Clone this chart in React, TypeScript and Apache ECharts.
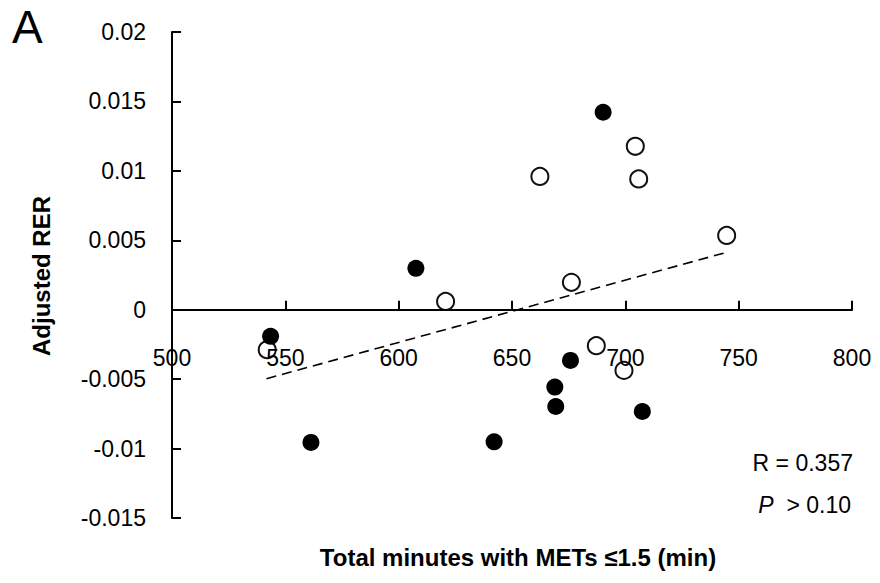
import React, { useEffect, useRef } from "react";
import * as echarts from "echarts";

const xTicks = { min: 500, max: 800, interval: 50 };
const yTicks = { min: -0.015, max: 0.02, interval: 0.005 };

const filledX = [690.2, 561.3, 642.1, 543.5, 675.8, 668.9, 669.3, 707.5, 607.6];
const filledY = [0.01422, -0.00956, -0.00951, -0.00192, -0.00365, -0.00557, -0.00697, -0.00733, 0.00298];

const openX = [662.3, 704.4, 705.9, 744.7, 676.2, 620.7, 542.0, 687.2, 699.4];
const openY = [0.0096, 0.01177, 0.00942, 0.00535, 0.00197, 0.0006, -0.00288, -0.00259, -0.00437];

const trendX = [541.7, 744.6];
const trendY = [-0.00497, 0.00413];

const xTitle = "Total minutes with METs \u22641.5 (min)";
const yTitle = "Adjusted RER";
const panelLabel = "A";
const rText = "R = 0.357";
const pValue = "> 0.10";

const FONT = "Liberation Sans, Arial, sans-serif";
const GRID_TOP = 32;
const GRID_BOTTOM = 65;
const H = 583;

export default function App() {
  const ref = useRef<HTMLDivElement>(null);
  useEffect(() => {
    if (!ref.current) return;
    const chart = echarts.init(ref.current, undefined, { renderer: "svg" });
    const zip = (xs: number[], ys: number[]) => xs.map((x, i) => [x, ys[i]]);
    const plotH = H - GRID_TOP - GRID_BOTTOM;
    const zeroOffset = -plotH * ((0 - yTicks.min) / (yTicks.max - yTicks.min));
    chart.setOption({
      animation: false,
      backgroundColor: "#fff",
      grid: { left: 172, right: 28, top: GRID_TOP, bottom: GRID_BOTTOM, containLabel: false },
      xAxis: {
        type: "value",
        min: xTicks.min,
        max: xTicks.max,
        interval: xTicks.interval,
        offset: zeroOffset,
        z: 10,
        axisLine: { show: true, onZero: false, lineStyle: { color: "#000", width: 2 } },
        axisTick: { show: true, inside: true, length: 9, lineStyle: { color: "#000", width: 2 } },
        axisLabel: { margin: 37, color: "#000", fontSize: 23, fontFamily: FONT, showMinLabel: true, showMaxLabel: true, hideOverlap: false },
        splitLine: { show: false },
      },
      yAxis: {
        type: "value",
        min: yTicks.min,
        max: yTicks.max,
        interval: yTicks.interval,
        axisLine: { show: true, onZero: false, lineStyle: { color: "#000", width: 2 } },
        axisTick: { show: true, inside: true, length: 9, lineStyle: { color: "#000", width: 2 } },
        axisLabel: {
          margin: 26,
          color: "#000",
          fontSize: 23,
          fontFamily: FONT,
          formatter: (v: number) => String(Math.round(v * 1000) / 1000),
        },
        splitLine: { show: false },
      },
      series: [
        {
          type: "line",
          data: zip(trendX, trendY),
          symbol: "none",
          lineStyle: { color: "#000", width: 1.6, type: [10, 6] },
          z: 2,
        },
        {
          type: "scatter",
          data: zip(openX, openY),
          symbol: "circle",
          symbolSize: 17,
          itemStyle: { color: "#fff", borderColor: "#111", borderWidth: 2, opacity: 1 },
          z: 3,
        },
        {
          type: "scatter",
          data: zip(filledX, filledY),
          symbol: "circle",
          symbolSize: 17,
          itemStyle: { color: "#000", opacity: 1 },
          z: 4,
        },
      ],
      graphic: [
        {
          type: "text",
          left: 12,
          top: 4,
          style: { text: panelLabel, fontSize: 46, fontFamily: FONT, fill: "#000" },
        },
        {
          type: "text",
          x: 41,
          y: 276,
          rotation: Math.PI / 2,
          style: {
            text: yTitle,
            fontSize: 24,
            fontWeight: "bold",
            fontFamily: FONT,
            fill: "#000",
            align: "center",
            verticalAlign: "middle",
          },
        },
        {
          type: "text",
          x: 518,
          y: 557,
          style: {
            text: xTitle,
            fontSize: 24,
            fontWeight: "bold",
            fontFamily: FONT,
            fill: "#000",
            align: "center",
            verticalAlign: "middle",
          },
        },
        {
          type: "text",
          x: 853,
          y: 463,
          style: {
            text: rText,
            fontSize: 23,
            fontFamily: FONT,
            fill: "#000",
            align: "right",
            verticalAlign: "middle",
          },
        },
        {
          type: "text",
          x: 851,
          y: 505,
          style: {
            text: "{i|P}  " + pValue,
            fontSize: 23,
            fontFamily: FONT,
            fill: "#000",
            align: "right",
            verticalAlign: "middle",
            rich: { i: { fontStyle: "italic", fontSize: 23, fontFamily: FONT, fill: "#000" } },
          },
        },
      ],
    });
    return () => chart.dispose();
  }, []);
  return (
    <div
      ref={ref}
      style={{ position: "fixed", left: 0, top: 0, width: 880, height: 583, background: "#fff" }}
    />
  );
}
